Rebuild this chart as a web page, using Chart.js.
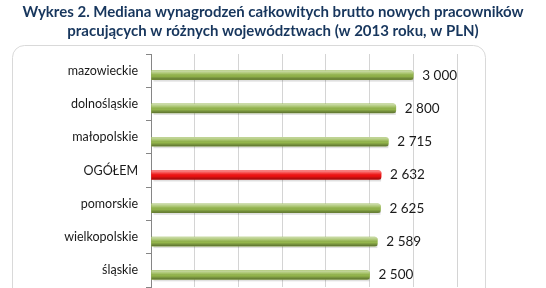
<!DOCTYPE html>
<html>
<head>
<meta charset="utf-8">
<script src="https://cdn.jsdelivr.net/npm/chart.js@4/dist/chart.umd.min.js"></script>
<style>
  html, body { margin: 0; padding: 0; background: #fff; overflow: hidden; }
  canvas { display: block; }
</style>
</head>
<body>
<canvas id="myChart" width="546" height="288"></canvas>
<script>
const titleLines = [
  "Wykres 2. Mediana wynagrodzeń całkowitych brutto nowych pracowników",
  "pracujących w różnych województwach (w 2013 roku, w PLN)"
];
const regions = [
  "mazowieckie",
  "dolnośląskie",
  "małopolskie",
  "OGÓŁEM",
  "pomorskie",
  "wielkopolskie",
  "śląskie"
];
const medians = [3000, 2800, 2715, 2632, 2625, 2589, 2500];
const xTicks = [0, 500, 1000, 1500, 2000, 2500, 3000, 3500];

const green = "#94b64c";
const red = "#f21212";
const colors = regions.map(function (r) { return r === "OGÓŁEM" ? red : green; });

function fmt(v) {
  return String(v).replace(/\B(?=(\d{3})+(?!\d))/g, " ");
}

// title over the whole width + rounded frame around the plot
const framePlugin = {
  id: "frame",
  beforeDraw: function (chart) {
    const ctx = chart.ctx;
    const x0 = 12.5, y0 = 45.5, x1 = 485.5, y1 = 320, r = 12;
    ctx.save();
    ctx.strokeStyle = "#d9d9d9";
    ctx.lineWidth = 1;
    ctx.beginPath();
    ctx.moveTo(x0, y1);
    ctx.lineTo(x0, y0 + r);
    ctx.arcTo(x0, y0, x0 + r, y0, r);
    ctx.lineTo(x1 - r, y0);
    ctx.arcTo(x1, y0, x1, y0 + r, r);
    ctx.lineTo(x1, y1);
    ctx.stroke();

    ctx.fillStyle = "#17365d";
    ctx.font = "bold 15px Lato, 'Open Sans', sans-serif";
    ctx.textAlign = "center";
    ctx.textBaseline = "middle";
    ctx.fillText(titleLines[0], chart.width / 2, 12);
    ctx.fillText(titleLines[1], chart.width / 2, 31);
    ctx.restore();
  }
};

// cylinder shading + value labels
const barLook = {
  id: "barLook",
  afterDatasetsDraw: function (chart) {
    const ctx = chart.ctx;
    const meta = chart.getDatasetMeta(1);
    meta.data.forEach(function (bar, i) {
      const p = bar.getProps(["x", "y", "base", "height"], true);
      const top = p.y - p.height / 2;
      const g = ctx.createLinearGradient(0, top, 0, top + p.height);
      g.addColorStop(0, "rgba(255,255,255,0.55)");
      g.addColorStop(0.35, "rgba(255,255,255,0.15)");
      g.addColorStop(0.6, "rgba(0,0,0,0.0)");
      g.addColorStop(1, "rgba(0,0,0,0.38)");
      ctx.save();
      ctx.fillStyle = g;
      ctx.fillRect(p.base, top, p.x - p.base, p.height);
      ctx.fillStyle = "rgba(0,0,0,0.12)";
      ctx.fillRect(p.base + 2, top + p.height, p.x - p.base - 2, 2);
      ctx.fillStyle = "#1a1a1a";
      ctx.font = "13.5px Lato, 'Liberation Sans', sans-serif";
      ctx.textAlign = "left";
      ctx.textBaseline = "middle";
      ctx.fillText(fmt(medians[i]), p.x + 9, p.y);
      ctx.restore();
    });
  }
};

new Chart(document.getElementById("myChart"), {
  type: "bar",
  data: {
    labels: regions,
    datasets: [
      // empty slot so the cylinders sit just under the category label, like Excel's
      { data: regions.map(function () { return null; }), barThickness: 9 },
      {
        data: medians,
        backgroundColor: colors,
        barThickness: 9,
        borderRadius: { topRight: 3, bottomRight: 3 },
        borderSkipped: "start"
      }
    ]
  },
  options: {
    indexAxis: "y",
    responsive: false,
    animation: false,
    layout: { padding: { left: 0, right: 89, top: 54, bottom: 1 } },
    plugins: {
      legend: { display: false },
      tooltip: { enabled: false },
      title: { display: false }
    },
    scales: {
      x: {
        min: 0,
        max: 3500,
        afterBuildTicks: function (axis) {
          axis.ticks = xTicks.map(function (v) { return { value: v }; });
        },
        afterFit: function (axis) { axis.height = 0; },
        ticks: { display: false },
        grid: { color: "#d4d4d4", drawTicks: false },
        border: { display: false }
      },
      y: {
        afterFit: function (axis) {
          axis.width = 151;
          axis.paddingTop = 0;
          axis.paddingBottom = 0;
        },
        ticks: {
          color: "#1a1a1a",
          padding: 8,
          font: { family: "Lato, 'Liberation Sans', sans-serif", size: 12.5 }
        },
        grid: { offset: true, drawOnChartArea: false, tickLength: 5, color: "#868686" },
        border: { color: "#868686" }
      }
    }
  },
  plugins: [framePlugin, barLook]
});
</script>
</body>
</html>
